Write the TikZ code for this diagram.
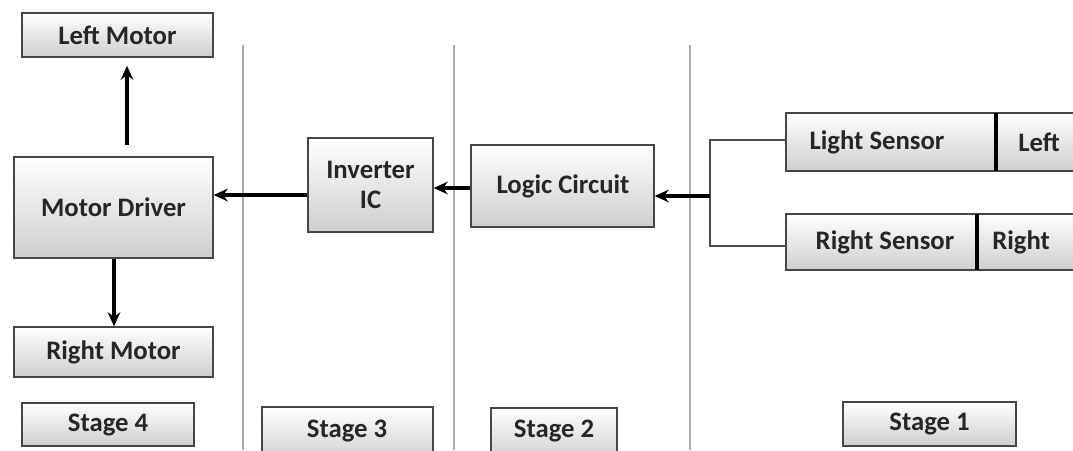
\documentclass[tikz,border=0pt]{standalone}
\usepackage{fontspec}
\setmainfont{Carlito}
\usetikzlibrary{fit,arrows.meta}
\begin{document}
\begin{tikzpicture}[x=0.025cm,y=-0.025cm,
  box/.style={draw=gray!55!black, line width=1pt, top color=white, bottom color=gray!38,
    inner sep=0pt},
  lbl/.style={font=\fontsize{19}{21}\selectfont\bfseries, text=black!85, align=center, inner sep=0pt},
  arr/.style={line width=2.4pt, -{Stealth[length=10pt,width=9pt]}},
  conn/.style={line width=0.8pt, draw=black!70},
  sep/.style={line width=1.1pt, draw=gray!65}]
\clip (0,0) rectangle (1073,450);
\fill[white] (0,0) rectangle (1073,450);
% separators
\draw[sep] (243,45) -- (243,450);
\draw[sep] (454,45) -- (454,450);
\draw[sep] (690,45) -- (690,450);
% stage 4
\node[box, fit={(22,13) (213,57)}] (lm) {};
\node[lbl] at (lm.center) {Left Motor};
\node[box, fit={(14,157) (213,258)}] (md) {};
\node[lbl] at (md.center) {Motor Driver};
\node[box, fit={(14,327) (213,377)}] (rm) {};
\node[lbl] at (rm.center) {Right Motor};
\node[box, fit={(22,403) (194,446)}] (s4) {};
\node[lbl] at (s4.center) {Stage 4};
% stage 3
\node[box, fit={(308,138) (433,232)}] (inv) {};
\node[lbl] at (inv.center) {Inverter\\IC};
\node[box, fit={(262,407) (433,462)}] (s3) {};
\node[lbl] at (347,431) {Stage 3};
% stage 2
\node[box, fit={(471,145) (654,227)}] (lc) {};
\node[lbl] at (563,186) {Logic Circuit};
\node[box, fit={(491,408) (617,462)}] (s2) {};
\node[lbl] at (554,431) {Stage 2};
% stage 1
\node[box, fit={(786,113) (996,171)}] (ls) {};
\node[lbl] at (877,142) {Light Sensor};
\node[box, fit={(996,113) (1100,171)}] (lft) {};
\node[lbl, anchor=west] at (1018,142) {Left};
\draw[line width=2.2pt] (996,113) -- (996,171);
\node[box, fit={(786,214) (977,270)}] (rs) {};
\node[lbl] at (885,242) {Right Sensor};
\node[box, fit={(977,214) (1100,270)}] (rgt) {};
\node[lbl, anchor=west] at (992,242) {Right};
\draw[line width=2.2pt] (977,214) -- (977,270);
\node[box, fit={(843,402) (1016,446)}] (s1) {};
\node[lbl] at (s1.center) {Stage 1};
% connectors
\coordinate (j) at (710,196);
\draw[conn] (ls.west |- 0,140) -| (710,246) -- (rs.west |- 0,246);
\draw[arr] (j) -- (lc.east |- j);
\draw[arr] (lc.west |- 0,188) -- (inv.east |- 0,188);
\draw[arr] (inv.west |- 0,195) -- (md.east |- 0,195);
\coordinate (mdt) at (127,145);
\draw[arr] (mdt) -- ([yshift=-0.2cm]lm.south -| mdt);
\draw[arr] (md.south -| 114,0) -- (rm.north -| 114,0);
\end{tikzpicture}
\end{document}
